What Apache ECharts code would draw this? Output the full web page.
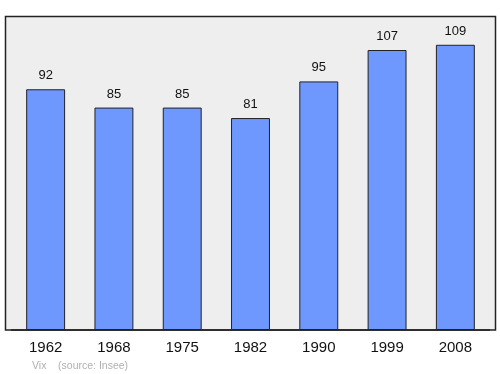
<!DOCTYPE html>
<html><head><meta charset="utf-8">
<script src="https://cdn.jsdelivr.net/npm/echarts@6/dist/echarts.min.js"></script>
<style>html,body{margin:0;padding:0;background:#fff}#c{width:500px;height:374px}</style>
</head><body><div id="c"></div>
<script>
var categories = ['1962','1968','1975','1982','1990','1999','2008'];
var values = [92, 85, 85, 81, 95, 107, 109];
var footnote = 'Vix    (source: Insee)';

var chart = echarts.init(document.getElementById('c'), null, {renderer:'canvas'});
chart.setOption({
  animation:false,
  graphic:[
    {type:'rect', z:-10, shape:{x:5.5,y:16.5,width:490,height:313.5}, style:{fill:'#eeeeee', stroke:'#222', lineWidth:1.5}},
    {type:'text', left:32, top:360.5, style:{text:footnote, fill:'#b0b0b0', font:'10.5px "Liberation Sans", Arial, sans-serif'}}
  ],
  grid:{left:11.5, right:10.5, top:16, bottom:44},
  xAxis:{type:'category', data:categories,
    axisLine:{show:true, lineStyle:{color:'#222', width:1.5}}, axisTick:{show:false},
    axisLabel:{color:'#111', fontSize:15, fontFamily:'"Liberation Sans", Arial, sans-serif', margin:10}},
  yAxis:{type:'value', min:0, max:120, show:false, splitLine:{show:false}},
  series:[{type:'bar', data:values, barWidth:'57%',
    itemStyle:{color:'#6f98ff', borderColor:'#222', borderWidth:1},
    label:{show:true, position:'top', distance:7, color:'#111', fontSize:13, fontFamily:'"Liberation Sans", Arial, sans-serif'}}]
});
</script></body></html>
